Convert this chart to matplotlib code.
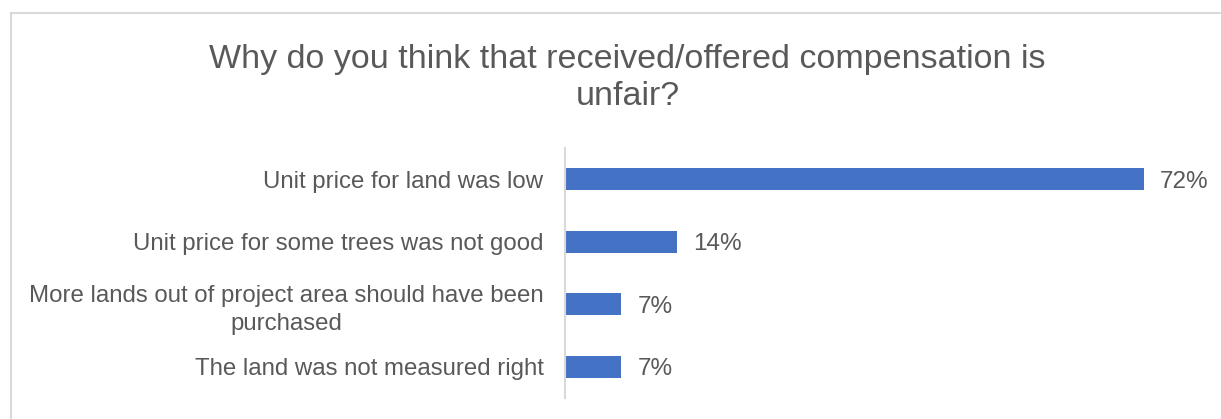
import matplotlib.pyplot as plt
from matplotlib.lines import Line2D

plt.rcParams['font.family'] = ['Liberation Sans', 'DejaVu Sans']

# survey answers, top to bottom
reasons = [
    "Unit price for land was low",
    "Unit price for some trees was not good",
    "More lands out of project area should have been\npurchased",
    "The land was not measured right",
]
shares = [72, 14, 7, 7]

text_grey = "#595959"
bar_blue = "#4472C4"

fig = plt.figure(figsize=(12.21, 4.19), dpi=100)
ax = fig.add_axes([0.4627, 0.0501, 0.5266, 0.5967])

ypos = list(range(len(reasons)))
ax.barh(ypos, shares, height=0.35, color=bar_blue)
ax.set_ylim(len(reasons) - 0.5, -0.5)
ax.set_xlim(0, 80)

for y, v in zip(ypos, shares):
    ax.text(v + 2, y, f"{v}%", va="center_baseline", ha="left", fontsize=17.5, color=text_grey)

ax.set_yticks(ypos)
ax.set_yticklabels(reasons, fontsize=17.3, color=text_grey, multialignment="center",
                   linespacing=1.35)
ax.tick_params(axis="y", length=0, pad=15.5)
ax.set_xticks([])
for side in ["top", "right", "bottom"]:
    ax.spines[side].set_visible(False)
ax.spines["left"].set_color("#D9D9D9")
ax.spines["left"].set_linewidth(1.5)

fig.text(0.514, 0.815, "Why do you think that received/offered compensation is\nunfair?",
         ha="center", va="center", fontsize=24.5, color=text_grey, linespacing=1.25)

# chart frame (only left and top edges fall inside the image)
fig.add_artist(Line2D([11 / 1221, 11 / 1221], [0, 1 - 13 / 419], transform=fig.transFigure,
                      color="#D9D9D9", linewidth=1.5))
fig.add_artist(Line2D([11 / 1221, 1], [1 - 13 / 419, 1 - 13 / 419], transform=fig.transFigure,
                      color="#D9D9D9", linewidth=1.5))

fig.savefig("out.png", dpi=100)
